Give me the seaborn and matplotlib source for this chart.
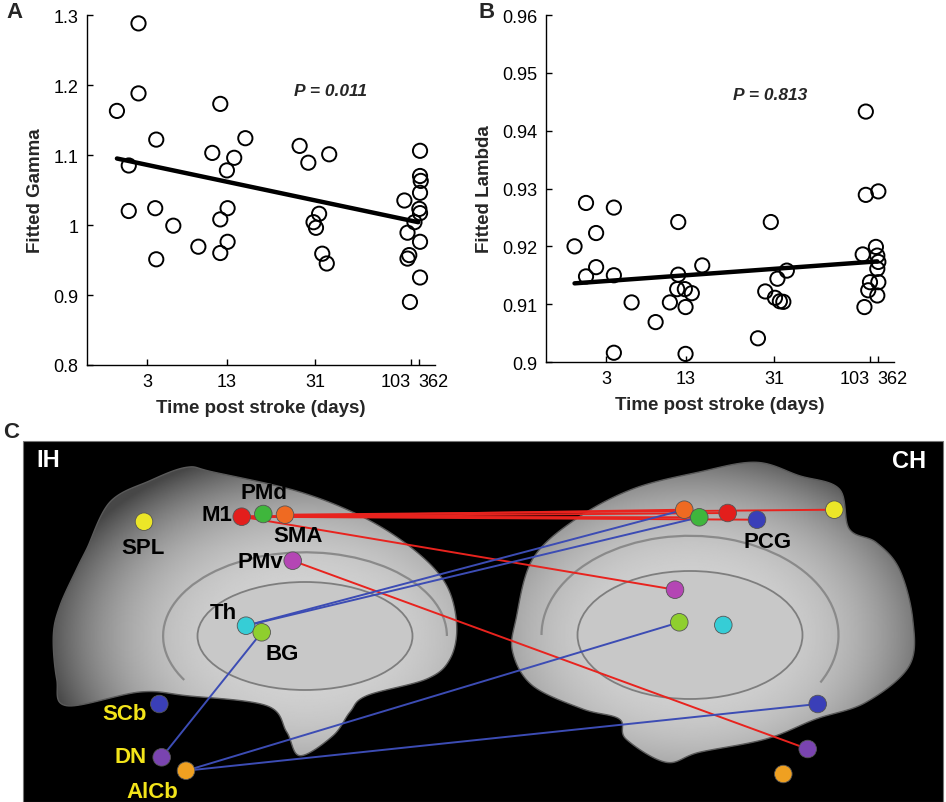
import numpy as np
import pandas as pd
import matplotlib
matplotlib.use("Agg")
import matplotlib.pyplot as plt
import seaborn as sns
from matplotlib.patches import Polygon, Rectangle, Ellipse, Arc

sns.set_theme(style="white")
plt.rcParams["font.family"] = ["Liberation Sans", "DejaVu Sans"]

# ---------------- data ----------------
xtick_pos = [17.2, 40.2, 65.6, 93.0, 95.3]
xtick_labels = ["3", "13", "31", "103", "362"]

gamma_x = [8.6, 14.8, 14.8, 12.0, 12.0, 19.9, 19.6, 19.9, 24.8, 32.0,
           38.3, 36.0, 42.3, 40.2, 40.4, 38.3, 40.4, 38.3, 45.5, 61.1,
           63.6, 69.6, 66.7, 65.1, 65.8, 67.6, 68.9, 91.2, 92.1, 92.1,
           92.8, 95.7, 95.7, 95.9, 95.7, 95.5, 95.7, 94.1, 95.7, 95.7, 92.6]
gamma_y = [1.163, 1.288, 1.188, 1.085, 1.020, 1.122, 1.024, 0.951, 0.999, 0.969,
           1.173, 1.103, 1.096, 1.078, 1.024, 1.008, 0.976, 0.960, 1.124, 1.113,
           1.089, 1.101, 1.016, 1.004, 0.996, 0.959, 0.945, 1.035, 0.989, 0.952,
           0.890, 1.106, 1.070, 1.063, 1.046, 1.023, 1.017, 1.004, 0.976, 0.925, 0.957]
gamma_fit_x = [8.6, 95.2]
gamma_fit_y = [1.095, 1.004]
gamma_yticks = [0.8, 0.9, 1.0, 1.1, 1.2, 1.3]
gamma_yticklabels = ["0.8", "0.9", "1", "1.1", "1.2", "1.3"]

lambda_x = [8.2, 11.5, 14.4, 11.5, 14.4, 19.5, 19.5, 19.5, 24.6, 31.5,
            35.6, 38.0, 38.0, 37.7, 39.9, 41.9, 40.1, 40.1, 44.9, 60.9,
            64.6, 63.0, 66.5, 65.8, 67.2, 68.2, 69.2, 91.9, 91.9, 95.5,
            91.0, 92.6, 93.1, 91.5, 94.8, 95.2, 95.5, 95.2, 95.5, 95.2]
lambda_y = [0.9200, 0.9275, 0.9223, 0.9148, 0.9164, 0.9267, 0.9150, 0.9016, 0.9103, 0.9069,
            0.9103, 0.9242, 0.9151, 0.9126, 0.9126, 0.9119, 0.9095, 0.9014, 0.9167, 0.9041,
            0.9242, 0.9122, 0.9144, 0.9111, 0.9105, 0.9104, 0.9158, 0.9433, 0.9289, 0.9295,
            0.9186, 0.9124, 0.9138, 0.9095, 0.9199, 0.9184, 0.9173, 0.9161, 0.9138, 0.9115]
lambda_fit_x = [8.2, 95.2]
lambda_fit_y = [0.9136, 0.9174]
lambda_yticks = [0.90, 0.91, 0.92, 0.93, 0.94, 0.95, 0.96]
lambda_yticklabels = ["0.9", "0.91", "0.92", "0.93", "0.94", "0.95", "0.96"]

# Panel C network diagram (positions in image pixels)
node_names = ["SPL_L", "M1_L", "PMd_L", "SMA_L", "PMv_L", "Th_L", "BG_L", "SCb_L", "DN_L", "AlCb_L",
              "SMA_R", "PMd_R", "M1_R", "PCG_R", "SPL_R", "PMv_R", "BG_R", "Th_R", "SCb_R", "DN_R", "AlCb_R"]
node_px = [144, 241.7, 263.3, 285, 292.7, 246, 261.7, 159.3, 161.7, 186,
           684.3, 699.3, 727.7, 757, 834.3, 675, 679.3, 723.3, 817.7, 807.7, 783.3]
node_py = [522.7, 517.7, 515, 515.7, 561.7, 626.7, 633.3, 705, 758.3, 771.7,
           510.7, 518.3, 514, 520.7, 510.7, 590.7, 623.3, 626, 705, 750, 775]
node_colors = ["#ece628", "#e31e1c", "#3fb63c", "#ef6a22", "#b446b4", "#36cdd6", "#8fcf2e",
               "#3a3fb8", "#7a44b0", "#efa021",
               "#ef6a22", "#3fb63c", "#e31e1c", "#3a3fb8", "#ece628", "#b446b4", "#8fcf2e",
               "#36cdd6", "#3a3fb8", "#7a44b0", "#efa021"]
red_edges = [("SMA_L", "SPL_R"), ("M1_L", "SMA_R"), ("M1_L", "M1_R"), ("M1_L", "PMd_R"),
             ("M1_L", "PCG_R"), ("M1_L", "PMv_R"), ("PMv_L", "DN_R")]
blue_edges = [("Th_L", "SMA_R"), ("Th_L", "PMd_R"), ("BG_L", "Th_L"), ("DN_L", "BG_L"),
              ("AlCb_L", "BG_R"), ("AlCb_L", "SCb_R")]
black_labels = ["PMd", "M1", "SMA", "SPL", "PMv", "Th", "BG", "PCG"]
black_label_x = [264, 217, 298, 143, 260, 223, 282, 768]
black_label_y = [494, 516, 537, 549, 563, 614, 655, 543]
yellow_labels = ["SCb", "DN", "AlCb"]
yellow_label_x = [125, 131, 152]
yellow_label_y = [715, 758, 793]

# brain outlines (control points, image pixels)
left_brain_x = [86.7, 110, 150, 186.7, 213, 300, 366.7, 416.7, 446.7, 456.7, 450, 426.7, 366.7,
                350, 333, 300, 286.7, 266.7, 186.7, 140, 66.7, 56.7, 53.3, 60, 76.7]
left_brain_y = [550, 503, 481.7, 468.3, 473, 493, 520, 553, 586.7, 626.7, 660, 680, 696.7,
                713, 736.7, 756.7, 733, 706.7, 696.7, 693, 706.7, 680, 636.7, 606.7, 570]
right_brain_x = [516, 532.7, 576, 632.7, 699.3, 756, 799.3, 839.3, 849.3, 876, 899.3, 912.7,
                 909.3, 866, 816, 766, 699.3, 666, 626, 619.3, 582.7, 532.7, 512.7]
right_brain_y = [620, 560, 520, 490, 473, 463.3, 476.7, 490, 530, 543.3, 570, 620,
                 666.7, 703.3, 720, 740, 753.3, 763.3, 740, 720, 710, 686.7, 653.3]

# ---------------- figure ----------------
W, H = 946, 803
fig = plt.figure(figsize=(W / 100, H / 100), dpi=100)


def style_scatter_axes(ax, yticks, yticklabels, ylabel):
    ax.set_xlim(0, 100)
    ax.set_xticks(xtick_pos)
    ax.set_xticklabels(xtick_labels)
    ax.set_yticks(yticks)
    ax.set_yticklabels(yticklabels)
    ax.set_ylim(yticks[0], yticks[-1])
    for s in ["top", "right"]:
        ax.spines[s].set_visible(False)
    for s in ["left", "bottom"]:
        ax.spines[s].set_color("black")
        ax.spines[s].set_linewidth(1.0)
    ax.tick_params(direction="in", length=4, width=1, colors="black", labelsize=13, pad=6,
                   bottom=True, left=True)
    labs = ax.get_xticklabels()
    labs[3].set_horizontalalignment("right")
    labs[4].set_horizontalalignment("left")
    ax.set_xlabel("Time post stroke (days)", fontsize=13.5, fontweight="bold", labelpad=6)
    ax.set_ylabel(ylabel, fontsize=13.5, fontweight="bold", labelpad=7)
    ax.set_facecolor("white")


# Panel A
axA = fig.add_axes([87 / W, 1 - 366 / H, 348 / W, 350 / H])
dfA = pd.DataFrame({"x": gamma_x, "y": gamma_y})
sns.lineplot(x=gamma_fit_x, y=gamma_fit_y, ax=axA, color="black", linewidth=3.2, zorder=2)
sns.scatterplot(data=dfA, x="x", y="y", ax=axA, marker="o", s=105, facecolor="none",
                edgecolor="black", linewidth=1.4, zorder=3, clip_on=False)
style_scatter_axes(axA, gamma_yticks, gamma_yticklabels, "Fitted Gamma")
axA.text(0.70, 0.783, "P = 0.011", transform=axA.transAxes, ha="center", va="center",
         fontsize=12.5, fontweight="bold", fontstyle="italic")

# Panel B
axB = fig.add_axes([546 / W, 1 - 363 / H, 348 / W, 347 / H])
dfB = pd.DataFrame({"x": lambda_x, "y": lambda_y})
sns.lineplot(x=lambda_fit_x, y=lambda_fit_y, ax=axB, color="black", linewidth=3.2, zorder=2)
sns.scatterplot(data=dfB, x="x", y="y", ax=axB, marker="o", s=105, facecolor="none",
                edgecolor="black", linewidth=1.4, zorder=3, clip_on=False)
style_scatter_axes(axB, lambda_yticks, lambda_yticklabels, "Fitted Lambda")
axB.text(0.644, 0.772, "P = 0.813", transform=axB.transAxes, ha="center", va="center",
         fontsize=12.5, fontweight="bold", fontstyle="italic")

# Panel C
axC = fig.add_axes([0, 0, 1, 1], zorder=-1)
axC.set_xlim(0, W)
axC.set_ylim(H, 0)
axC.axis("off")
axC.patch.set_visible(False)
axC.add_patch(Rectangle((23, 442), 920, 361, facecolor="black", edgecolor="#777777", lw=0.8))


def smooth_closed(xs, ys, n=20):
    P = np.column_stack([xs, ys])
    m = len(P)
    out = []
    for i in range(m):
        p0, p1, p2, p3 = P[(i - 1) % m], P[i], P[(i + 1) % m], P[(i + 2) % m]
        t = np.linspace(0, 1, n, endpoint=False)[:, None]
        pts = 0.5 * ((2 * p1) + (-p0 + p2) * t + (2 * p0 - 5 * p1 + 4 * p2 - p3) * t ** 2
                     + (-p0 + 3 * p1 - 3 * p2 + p3) * t ** 3)
        out.append(pts)
    return np.vstack(out)


def draw_brain(xs, ys, inner_center, inner_w, inner_h, arc_theta):
    pts = smooth_closed(xs, ys)
    poly = Polygon(pts, closed=True, facecolor="none", edgecolor="#5a5a5a", lw=1.0, zorder=2)
    axC.add_patch(poly)
    x0, x1 = pts[:, 0].min(), pts[:, 0].max()
    y0, y1 = pts[:, 1].min(), pts[:, 1].max()
    gx, gy = np.meshgrid(np.linspace(x0, x1, 300), np.linspace(y0, y1, 300))
    cx, cy = inner_center
    d = np.sqrt(((gx - cx) / (x1 - x0) * 2) ** 2 + ((gy - cy) / (y1 - y0) * 2) ** 2)
    Z = 0.83 - 0.25 * np.clip(d, 0, 1.3) ** 3
    im = axC.imshow(Z, extent=(x0, x1, y1, y0), origin="upper", cmap="gray", vmin=0, vmax=1,
                    zorder=1, aspect="auto", interpolation="bilinear")
    im.set_clip_path(poly)
    axC.add_patch(Ellipse(inner_center, inner_w, inner_h, facecolor="#c8c8c8",
                          edgecolor="#7e7e7e", lw=1.3, zorder=1.5))
    arc = Arc(inner_center, inner_w * 1.32, inner_h * 1.55, theta1=arc_theta[0],
              theta2=arc_theta[1], edgecolor="#8a8a8a", lw=1.6, zorder=1.6)
    axC.add_patch(arc)


draw_brain(left_brain_x, left_brain_y, (305, 637), 215, 108, (160, 360))
draw_brain(right_brain_x, right_brain_y, (690, 636), 225, 128, (180, 380))

pos = {n: (x, y) for n, x, y in zip(node_names, node_px, node_py)}
for a, b in red_edges:
    axC.plot([pos[a][0], pos[b][0]], [pos[a][1], pos[b][1]], color="#e8231e", lw=1.4, zorder=3)
for a, b in blue_edges:
    axC.plot([pos[a][0], pos[b][0]], [pos[a][1], pos[b][1]], color="#3c4cb4", lw=1.4, zorder=3)

dfN = pd.DataFrame({"x": node_px, "y": node_py, "name": node_names})
sns.scatterplot(data=dfN, x="x", y="y", hue="name", palette=dict(zip(node_names, node_colors)),
                s=160, edgecolor="#555555", linewidth=0.6, legend=False, ax=axC, zorder=4)
axC.set_xlim(0, W)
axC.set_ylim(H, 0)
axC.set_xlabel("")
axC.set_ylabel("")

for t, x, y in zip(black_labels, black_label_x, black_label_y):
    axC.text(x, y, t, fontsize=16, fontweight="bold", color="black", ha="center", va="center",
             zorder=5)
for t, x, y in zip(yellow_labels, yellow_label_x, yellow_label_y):
    axC.text(x, y, t, fontsize=16, fontweight="bold", color="#f2e41a", ha="center", va="center",
             zorder=5)
axC.text(48, 461, "IH", fontsize=17, fontweight="bold", color="white", ha="center", va="center")
axC.text(909, 462, "CH", fontsize=17, fontweight="bold", color="white", ha="center", va="center")

# panel letters
fig.text(14 / W, 1 - 12 / H, "A", fontsize=16, fontweight="bold", ha="center", va="center")
fig.text(487 / W, 1 - 12 / H, "B", fontsize=16, fontweight="bold", ha="center", va="center")
fig.text(11 / W, 1 - 432 / H, "C", fontsize=16, fontweight="bold", ha="center", va="center")

fig.savefig("out.png", dpi=100, facecolor="white")
